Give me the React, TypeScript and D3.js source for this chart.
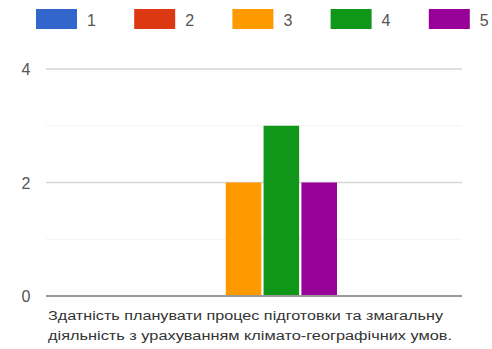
import React from "react";
import * as d3 from "d3";

const categories = ["Здатність планувати процес підготовки та змагальну діяльність з урахуванням клімато-географічних умов."];
const categoryLines = [
  "Здатність планувати процес підготовки та змагальну",
  "діяльність з урахуванням клімато-географічних умов.",
];
const seriesNames = ["1", "2", "3", "4", "5"];
const seriesValues = [0, 0, 2, 3, 2];
const seriesColors = ["#3366cc", "#dc3912", "#ff9900", "#109618", "#990099"];
const yTicks = [0, 1, 2, 3, 4];
const yLabels = [0, 2, 4];

export default function App() {
  const W = 492, H = 349;
  const left = 46, right = 462, top = 69, bottom = 296;
  const y = d3.scaleLinear().domain([0, 4]).range([bottom, top]);
  const x1 = d3.scaleBand<string>().domain(seriesNames).range([150, 337]).paddingInner(0.06).paddingOuter(0);
  const font = "Arial, 'Liberation Sans', sans-serif";
  return (
    <svg width={W} height={H} style={{ position: "absolute", left: 0, top: 0, background: "#fff" }}>
      {/* legend */}
      {seriesNames.map((s, i) => (
        <g key={s} transform={`translate(${36 + i * 98.2},0)`}>
          <rect x={0} y={9} width={41} height={20} fill={seriesColors[i]} />
          <text x={51} y={26} fontFamily={font} fontSize={16} fill="#555">{s}</text>
        </g>
      ))}
      {/* grid */}
      {yTicks.filter((t) => t !== 0).map((t) => (
        <line key={t} x1={left} x2={right} y1={y(t)} y2={y(t)} stroke={t % 2 === 0 ? "#d6d6d6" : "#f2f2f2"} strokeWidth={t % 2 === 0 ? 1.5 : 1} />
      ))}
      {yLabels.map((t) => (
        <text key={t} x={26} y={y(t) + 6} textAnchor="middle" fontFamily={font} fontSize={16} fill="#555">{t}</text>
      ))}
      {/* bars */}
      {seriesNames.map((s, i) =>
        seriesValues[i] > 0 ? (
          <rect key={s} x={x1(s)} y={y(seriesValues[i])} width={x1.bandwidth()} height={y(0) - y(seriesValues[i])} fill={seriesColors[i]} />
        ) : null
      )}
      {/* baseline */}
      <line x1={left} x2={right} y1={y(0)} y2={y(0)} stroke="#999" strokeWidth={2} />
      {/* category label */}
      <title>{categories[0]}</title>
      {categoryLines.map((l, i) => (
        <text key={i} x={48} y={320 + i * 20} fontFamily={font} fontSize={12.5} fill="#333"
          textLength={i === 0 ? 395 : 404} lengthAdjust="spacingAndGlyphs">{l}</text>
      ))}
    </svg>
  );
}
